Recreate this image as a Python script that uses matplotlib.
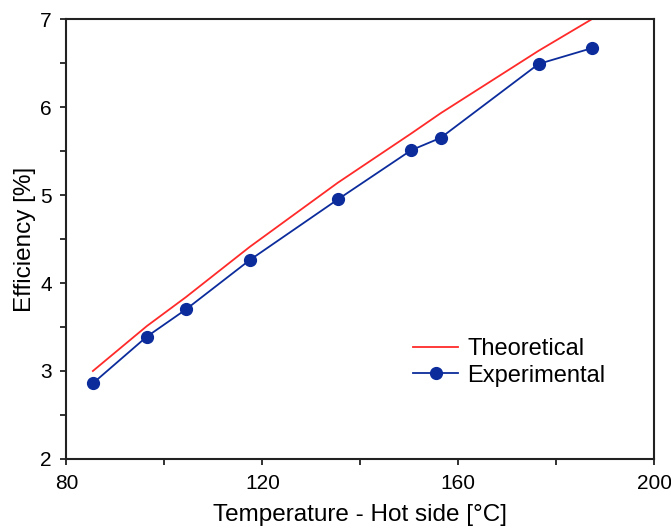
import matplotlib
matplotlib.use("Agg")
import matplotlib.pyplot as plt
from matplotlib.ticker import MultipleLocator

# Data
temp_exp = [85.4, 96.4, 104.4, 117.4, 135.4, 150.4, 156.4, 176.4, 187.3]
eff_exp = [2.86, 3.39, 3.70, 4.26, 4.95, 5.51, 5.65, 6.49, 6.67]
temp_theo = [85.4, 96.4, 104.4, 117.4, 135.4, 150.4, 156.4, 176.4, 187.3]
eff_theo = [3.00, 3.51, 3.84, 4.41, 5.14, 5.70, 5.93, 6.64, 7.00]

plt.rcParams['font.family'] = ['Liberation Sans', 'DejaVu Sans']

fig = plt.figure(figsize=(6.71, 5.30), dpi=100)
ax = fig.add_axes([0.099, 0.134, 0.876, 0.830])

ax.plot(temp_theo, eff_theo, color='#ff2a2a', lw=1.3, label='Theoretical')
ax.plot(temp_exp, eff_exp, color='#0c2c9c', lw=1.3, marker='o', markersize=8.5,
        label='Experimental')

ax.set_xlim(80, 200)
ax.set_ylim(2, 7)
ax.xaxis.set_major_locator(MultipleLocator(40))
ax.xaxis.set_minor_locator(MultipleLocator(20))
ax.yaxis.set_major_locator(MultipleLocator(1))
ax.yaxis.set_minor_locator(MultipleLocator(0.5))
ax.tick_params(which='both', direction='out', length=4.5, width=1.3, labelsize=15, color='#222222')
ax.tick_params(which='major', pad=6)
for s in ax.spines.values():
    s.set_linewidth(1.5)
    s.set_color('#222222')

ax.set_xlabel('Temperature - Hot side [°C]', fontsize=17.5, labelpad=8)
ax.set_ylabel('Efficiency [%]', fontsize=17.5, labelpad=3)

ax.legend(loc='center left', bbox_to_anchor=(0.59, 0.22), frameon=False, fontsize=17,
          handlelength=1.9, handletextpad=0.4, labelspacing=0.2, borderpad=0,
          borderaxespad=0)

fig.savefig('out.png', dpi=100)
